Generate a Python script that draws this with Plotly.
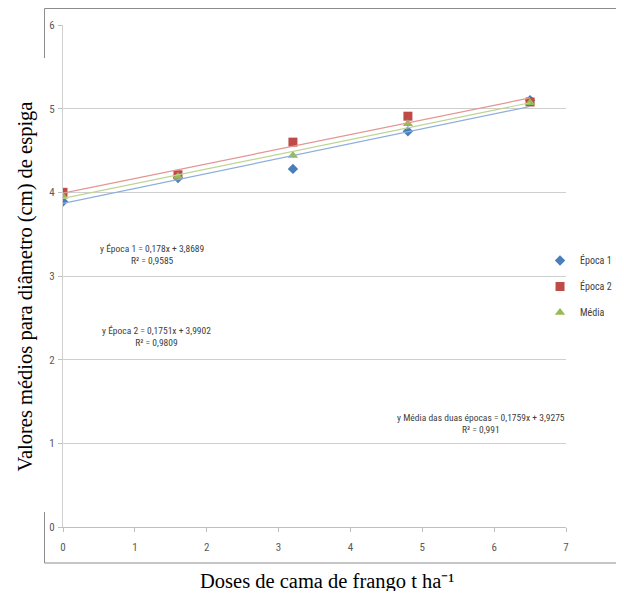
import plotly.graph_objects as go

# ---- data ----
doses = [0, 1.6, 3.2, 4.8, 6.5]
epoca1 = [3.89, 4.17, 4.28, 4.73, 5.10]
epoca2 = [4.00, 4.21, 4.60, 4.91, 5.08]
media = [3.95, 4.19, 4.44, 4.82, 5.07]

series_names = ["Época 1", "Época 2", "Média"]
slopes = [0.178, 0.1751, 0.1759]
intercepts = [3.8689, 3.9902, 3.9275]
r2_values = ["0,9585", "0,9809", "0,991"]
eq_labels = ["y Época 1 = 0,178x + 3,8689",
             "y Época 2 = 0,1751x + 3,9902",
             "y Média das duas épocas = 0,1759x + 3,9275"]

x_ticks = [0, 1, 2, 3, 4, 5, 6, 7]
y_ticks = [0, 1, 2, 3, 4, 5, 6]

# ---- styles ----
colors = ["#4A7EBB", "#BE4B48", "#98B954"]
trend_colors = ["#8DAEDD", "#E39593", "#BDD491"]
symbols = ["diamond", "square", "triangle-up"]
sizes = [8, 9, 9]
narrow = "Roboto Condensed, DejaVu Sans Condensed, sans-serif"
serif = "Liberation Serif, Times New Roman, serif"

OFF = 8  # page body margin
W, H = 616, 583
L, R, T = 54.5, 58, 17
B = H - (527 - OFF)
pw, ph = W - L - R, H - T - B


def px2paper(sx, sy):
    fx, fy = sx - OFF, sy - OFF
    return (fx - L) / pw, (H - B - fy) / ph


fig = go.Figure()

ys = [epoca1, epoca2, media]
for i in range(3):
    fig.add_trace(go.Scatter(
        x=doses, y=ys[i], mode="markers", name=series_names[i],
        legendgroup="g%d" % i,
        marker=dict(symbol=symbols[i], size=sizes[i], color=colors[i],
                    line=dict(width=0)),
    ))

xmin, xmax = min(doses), max(doses)
for i in range(3):
    fig.add_trace(go.Scatter(
        x=[xmin, xmax],
        y=[intercepts[i] + slopes[i] * xmin, intercepts[i] + slopes[i] * xmax],
        mode="lines", showlegend=False, hoverinfo="skip",
        line=dict(color=trend_colors[i], width=1.2),
    ))

# equation annotations (screen positions of centres)
eq_pos = [(152, 254), (156, 336), (481, 423)]
for i in range(3):
    ax, ay = px2paper(*eq_pos[i])
    fig.add_annotation(
        x=ax, y=ay, xref="paper", yref="paper", showarrow=False,
        text=eq_labels[i] + "<br>R² = " + r2_values[i], align="center",
        font=dict(family=narrow, size=9.5, color="#404040"),
        xanchor="center", yanchor="middle",
    )

# axis titles
tx, ty = px2paper(24, 287)
fig.add_annotation(x=tx, y=ty, xref="paper", yref="paper", showarrow=False,
                   text="Valores médios para diâmetro (cm) de espiga",
                   textangle=-90, font=dict(family=serif, size=20.5, color="#000000"),
                   xanchor="center", yanchor="middle")
tx, ty = px2paper(327, 581)
fig.add_annotation(x=tx, y=ty, xref="paper", yref="paper", showarrow=False,
                   text="Doses de cama de frango t ha⁻¹",
                   font=dict(family=serif, size=20.5, color="#000000"),
                   xanchor="center", yanchor="middle")

# outer chart frame (partly hidden behind the y title)
frame = "#8C8C8C"
x0, y0 = px2paper(44, 8.5)
x1, y1 = px2paper(640, 563)
_, yl1 = px2paper(44, 58)
_, yl2 = px2paper(44, 512)
for seg in [(x0, y0, x1, y0), (x0, y1, x1, y1), (x0, y0, x0, yl1), (x0, yl2, x0, y1)]:
    fig.add_shape(type="line", xref="paper", yref="paper",
                  x0=seg[0], y0=seg[1], x1=seg[2], y1=seg[3],
                  line=dict(color=frame, width=1))

lx, ly = px2paper(540, 246)
fig.update_layout(
    width=W, height=H,
    margin=dict(l=L, r=R, t=T, b=B, autoexpand=False),
    paper_bgcolor="white", plot_bgcolor="white",
    showlegend=True,
    legend=dict(x=lx, xanchor="left", y=ly, yanchor="top",
                font=dict(family=narrow, size=10, color="#404040"),
                itemwidth=30, tracegroupgap=7, bgcolor="rgba(0,0,0,0)"),
    xaxis=dict(range=[0, 7], tickvals=x_ticks, showgrid=False, zeroline=False,
               showline=True, linecolor="#BFBFBF", linewidth=1,
               ticks="outside", ticklen=4, tickcolor="#BFBFBF",
               ticklabelstandoff=6,
               tickfont=dict(family=narrow, size=11, color="#595959")),
    yaxis=dict(range=[0, 6], tickvals=y_ticks, showgrid=True, gridcolor="#CFCFCF",
               zeroline=False, showline=True, linecolor="#D0D0D0", linewidth=1,
               ticks="outside", ticklen=4, tickcolor="#BFBFBF",
               ticklabelstandoff=1,
               tickfont=dict(family=narrow, size=11, color="#595959")),
)

fig.write_html("out.html")
